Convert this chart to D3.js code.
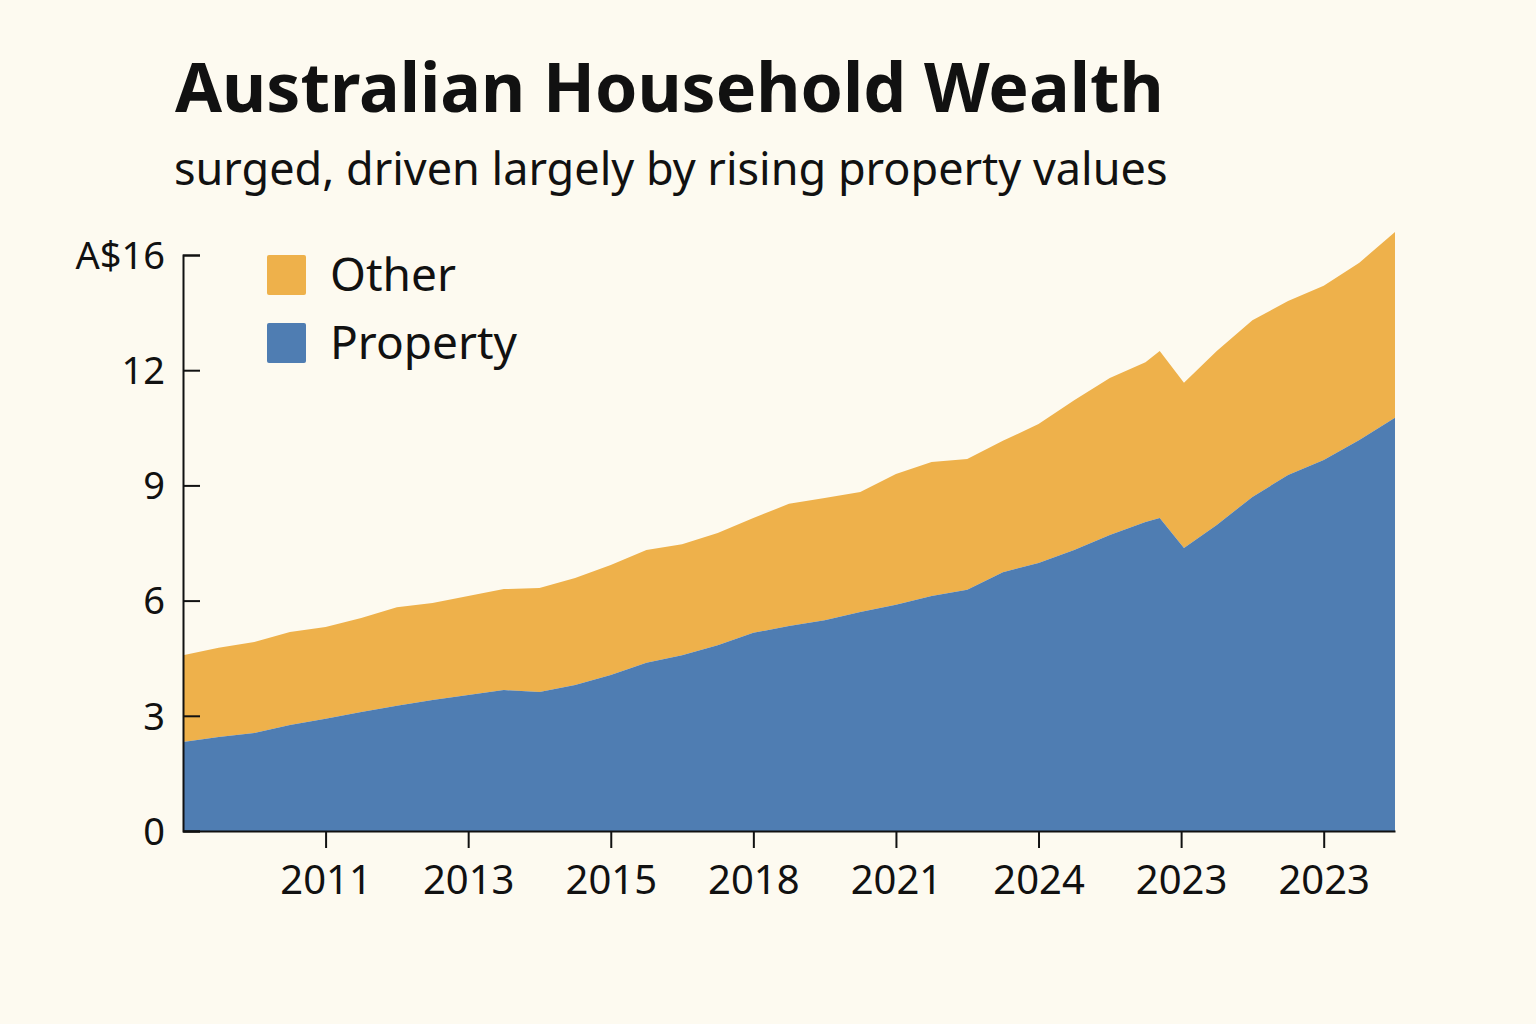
<!DOCTYPE html>
<html>
<head>
<meta charset="utf-8">
<script src="https://cdn.jsdelivr.net/npm/d3@7"></script>
<style>
  body { margin: 0; background: #fdfaf0; }
  text { font-family: "Noto Sans", "DejaVu Sans", sans-serif; fill: #111; }
</style>
</head>
<body>
<div class="chart"></div>
<script>
var svgWidth = 1536;
var svgHeight = 1024;

// position along x in axis-tick units (quarter steps)
var period = [0, 0.25, 0.5, 0.75, 1, 1.25, 1.5, 1.75, 2, 2.25, 2.5, 2.75, 3, 3.25, 3.5, 3.75,
  4, 4.25, 4.5, 4.75, 5, 5.25, 5.5, 5.75, 6, 6.25, 6.5, 6.75, 6.85, 7.02, 7.25, 7.5, 7.75, 8, 8.25, 8.5];
var property = [2.32, 2.45, 2.55, 2.76, 2.92, 3.10, 3.26, 3.41, 3.54, 3.67, 3.62, 3.80, 4.06, 4.38, 4.58, 4.84,
  5.16, 5.34, 5.49, 5.70, 5.89, 6.12, 6.28, 6.74, 6.98, 7.32, 7.71, 8.05, 8.15, 7.37, 7.97, 8.70, 9.27, 9.66, 10.18, 10.76];
var total = [4.58, 4.77, 4.92, 5.18, 5.31, 5.55, 5.83, 5.94, 6.12, 6.30, 6.33, 6.59, 6.93, 7.32, 7.47, 7.76,
  8.15, 8.52, 8.67, 8.83, 9.30, 9.61, 9.69, 10.16, 10.6, 11.22, 11.8, 12.21, 12.5, 11.67, 12.5, 13.3, 13.8, 14.2, 14.8, 15.6];

var yTicks = [0, 3, 6, 9, 12, 15];
var yTickLabels = ["0", "3", "6", "9", "12", "A$16"];
var xTicks = [1, 2, 3, 4, 5, 6, 7, 8];
var xTickLabels = ["2011", "2013", "2015", "2018", "2021", "2024", "2023", "2023"];

var svg = d3.select(".chart").append("svg")
  .attr("width", svgWidth)
  .attr("height", svgHeight);

svg.append("rect").attr("width", svgWidth).attr("height", svgHeight).attr("fill", "#fdfaf0");

var x = d3.scaleLinear().domain([0, 8.5]).range([183, 1395]);
var y = d3.scaleLinear().domain([0, 15]).range([831, 255]);

var data = period.map(function(t, i) {
  return { t: t, property: property[i], total: total[i] };
});

var otherArea = d3.area()
  .x(d => x(d.t))
  .y0(d => y(d.property))
  .y1(d => y(d.total));

var propArea = d3.area()
  .x(d => x(d.t))
  .y0(y(0))
  .y1(d => y(d.property));

svg.append("path").datum(data).attr("d", otherArea).attr("fill", "#eeb14b");
svg.append("path").datum(data).attr("d", propArea).attr("fill", "#4f7db2");

// y axis
var yAxis = d3.axisLeft(y)
  .tickValues(yTicks)
  .tickFormat((d, i) => yTickLabels[i])
  .tickSize(-17)
  .tickPadding(18);
var yG = svg.append("g").attr("transform", "translate(183,0)").call(yAxis);
yG.select(".domain").attr("stroke", "#111").attr("stroke-width", 2);
yG.selectAll(".tick line").attr("stroke", "#111").attr("stroke-width", 2);
yG.selectAll(".tick text").attr("font-size", 38).attr("fill", "#111").attr("dy", "0.35em");

// x axis
var xAxis = d3.axisBottom(x)
  .tickValues(xTicks)
  .tickFormat((d, i) => xTickLabels[i])
  .tickSize(17)
  .tickSizeOuter(0)
  .tickPadding(18);
var xG = svg.append("g").attr("transform", "translate(0,831)").call(xAxis);
xG.select(".domain").attr("stroke", "#111").attr("stroke-width", 2);
xG.selectAll(".tick line").attr("stroke", "#111").attr("stroke-width", 2);
xG.selectAll(".tick text").attr("font-size", 40).attr("fill", "#111");

// titles
svg.append("text").attr("x", 175).attr("y", 112)
  .attr("font-size", 68).attr("font-weight", "bold")
  .text("Australian Household Wealth");
svg.append("text").attr("x", 174).attr("y", 185)
  .attr("font-size", 45)
  .text("surged, driven largely by rising property values");

// legend
var legend = [["Other", "#eeb14b"], ["Property", "#4f7db2"]];
legend.forEach(function(l, i) {
  svg.append("rect").attr("x", 267).attr("y", 255 + i * 68)
    .attr("width", 39).attr("height", 40).attr("rx", 2).attr("fill", l[1]);
  svg.append("text").attr("x", 330).attr("y", 291 + i * 68)
    .attr("font-size", 46).text(l[0]);
});
</script>
</body>
</html>
